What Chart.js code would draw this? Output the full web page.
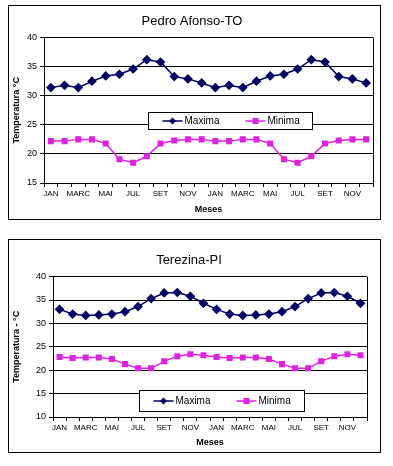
<!DOCTYPE html>
<html>
<head>
<meta charset="utf-8">
<script src="https://cdn.jsdelivr.net/npm/chart.js@4/dist/chart.umd.min.js"></script>
<style>
  body { margin: 0; background: #fff; width: 393px; height: 466px; position: relative; font-family: "Liberation Sans", Arial, sans-serif; }
  .frame { position: absolute; left: 8px; width: 371px; border: 1px solid #000; background: #fff; }
  #f1 { top: 5px; height: 213px; }
  #f2 { top: 239px; height: 212px; }
  canvas { display: block; }
</style>
</head>
<body>
<div class="frame" id="f1"><canvas id="c1"></canvas></div>
<div class="frame" id="f2"><canvas id="c2"></canvas></div>
<script>
// --- Dados ---
const meses = ['JAN','FEV','MARC','ABR','MAI','JUN','JUL','AGO','SET','OUT','NOV','DEZ',
               'JAN','FEV','MARC','ABR','MAI','JUN','JUL','AGO','SET','OUT','NOV','DEZ'];

// Pedro Afonso-TO
const paMaxima = [31.4, 31.8, 31.4, 32.5, 33.4, 33.7, 34.6, 36.2, 35.8, 33.3, 32.9, 32.2,
                  31.4, 31.8, 31.4, 32.5, 33.4, 33.7, 34.6, 36.2, 35.8, 33.3, 32.9, 32.2];
const paMinima = [22.2, 22.2, 22.5, 22.5, 21.8, 19.1, 18.5, 19.6, 21.8, 22.3, 22.5, 22.5,
                  22.2, 22.2, 22.5, 22.5, 21.8, 19.1, 18.5, 19.6, 21.8, 22.3, 22.5, 22.5];

// Terezina-PI
const teMaxima = [33.0, 32.0, 31.7, 31.8, 32.0, 32.5, 33.6, 35.3, 36.5, 36.6, 35.8, 34.3,
                  33.0, 32.0, 31.7, 31.8, 32.0, 32.5, 33.6, 35.3, 36.5, 36.6, 35.8, 34.3];
const teMinima = [22.8, 22.6, 22.7, 22.7, 22.4, 21.3, 20.4, 20.4, 21.9, 23.0, 23.4, 23.2,
                  22.8, 22.6, 22.7, 22.7, 22.4, 21.3, 20.4, 20.4, 21.9, 23.0, 23.4, 23.2];

const corMax = '#000066';
const corMin = '#e020e0';
const fonte = '"Liberation Sans", Arial, sans-serif';

// borda direita do plot + legenda dentro do grafico
const boxPlugin = {
  id: 'boxLegend',
  afterDraw(chart, args, opts) {
    const ctx = chart.ctx;
    const a = chart.chartArea;
    ctx.save();
    ctx.strokeStyle = '#000';
    ctx.lineWidth = 1;
    ctx.beginPath();
    ctx.moveTo(Math.round(a.right) + 0.5, a.top);
    ctx.lineTo(Math.round(a.right) + 0.5, a.bottom);
    ctx.stroke();

    // legenda
    const lx = Math.round(a.left + opts.x * (a.right - a.left)) + 0.5;
    const ly = Math.round(a.top + opts.y * (a.bottom - a.top)) + 0.5;
    const w = opts.w, h = opts.h;
    ctx.fillStyle = '#fff';
    ctx.fillRect(lx, ly, w, h);
    ctx.strokeRect(lx, ly, w, h);
    const cy = ly + h / 2;
    ctx.font = '10px ' + fonte;
    ctx.textBaseline = 'middle';
    ctx.lineWidth = 1.5;
    // Maxima
    ctx.strokeStyle = corMax;
    ctx.beginPath(); ctx.moveTo(lx + 14, cy); ctx.lineTo(lx + 34, cy); ctx.stroke();
    ctx.fillStyle = corMax;
    ctx.beginPath();
    ctx.moveTo(lx + 24, cy - 3.5); ctx.lineTo(lx + 27.5, cy); ctx.lineTo(lx + 24, cy + 3.5); ctx.lineTo(lx + 20.5, cy);
    ctx.closePath(); ctx.fill();
    ctx.fillStyle = '#000';
    ctx.fillText('Maxima', lx + 36, cy);
    // Minima
    ctx.strokeStyle = corMin;
    ctx.beginPath(); ctx.moveTo(lx + 97, cy); ctx.lineTo(lx + 117, cy); ctx.stroke();
    ctx.fillStyle = corMin;
    ctx.fillRect(lx + 104, cy - 3, 6, 6);
    ctx.fillStyle = '#000';
    ctx.fillText('Minima', lx + 119, cy);
    ctx.restore();
  }
};

function fazGrafico(id, titulo, yTitulo, maxima, minima, yMin, pad, yW, xH, leg) {
  const el = document.getElementById(id);
  const frame = el.parentElement;
  el.width = frame.clientWidth;
  el.height = frame.clientHeight;
  return new Chart(el, {
    type: 'line',
    data: {
      labels: meses,
      datasets: [
        { label: 'Maxima', data: maxima, borderColor: corMax, backgroundColor: corMax,
          borderWidth: 1.5, pointStyle: 'rectRot', pointRadius: 3.8, tension: 0 },
        { label: 'Minima', data: minima, borderColor: corMin, backgroundColor: corMin,
          borderWidth: 1.5, pointStyle: 'rect', pointRadius: 3.2, tension: 0 }
      ]
    },
    options: {
      responsive: false,
      animation: false,
      layout: { padding: pad },
      plugins: {
        legend: { display: false },
        tooltip: { enabled: false },
        title: { display: true, text: titulo, color: '#000',
                 font: { family: fonte, size: 13, weight: 'normal' }, padding: { top: 8, bottom: 8 } },
        boxLegend: leg
      },
      scales: {
        x: {
          offset: true,
          grid: { offset: true, drawOnChartArea: false, color: '#000', tickLength: 4 },
          border: { color: '#000' },
          ticks: { color: '#000', font: { family: fonte, size: 8 }, autoSkip: false, maxRotation: 0, padding: 2,
                   callback: (v, i) => i % 2 === 0 ? meses[i] : '' },
          title: { display: true, text: 'Meses', color: '#000', font: { family: fonte, size: 9, weight: 'bold' }, padding: { top: 2, bottom: 0 } },
          afterFit: s => { s.height = xH; }
        },
        y: {
          min: yMin, max: 40,
          ticks: { stepSize: 5, color: '#000', font: { family: fonte, size: 9 }, padding: 3 },
          grid: { color: '#000', tickLength: 4 },
          border: { color: '#000' },
          title: { display: true, text: yTitulo, color: '#000', font: { family: fonte, size: 9, weight: 'bold' }, padding: { top: 0, bottom: 2 } },
          afterFit: s => { s.width = yW; }
        }
      }
    },
    plugins: [boxPlugin]
  });
}

fazGrafico('c1', 'Pedro Afonso-TO', 'Temperatura °C', paMaxima, paMinima, 15,
  { left: 2, right: 7, top: 0, bottom: 4 }, 33, 32,
  { x: 104 / 330, y: 75 / 146, w: 164, h: 17 });
fazGrafico('c2', 'Terezina-PI', 'Temperatura - °C', teMaxima, teMinima, 10,
  { left: 2, right: 13, top: 5, bottom: 4 }, 42, 31,
  { x: 86 / 315, y: 113 / 140, w: 165, h: 21 });
</script>
</body>
</html>
